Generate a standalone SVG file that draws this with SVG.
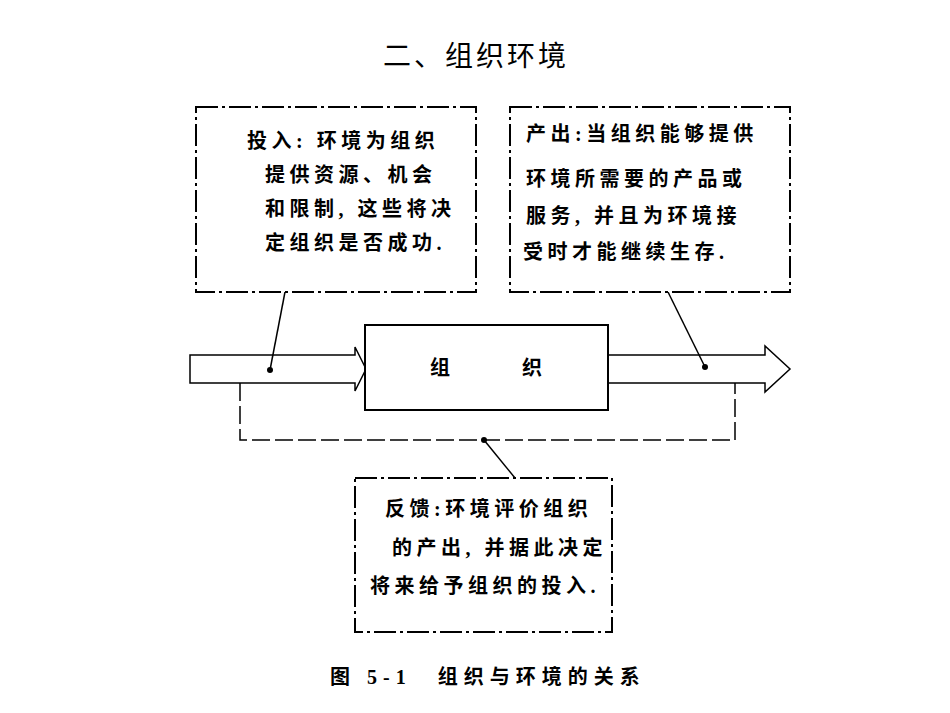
<svg xmlns="http://www.w3.org/2000/svg" width="950" height="713" viewBox="0 0 950 713">
<style>
text{font-family:"Liberation Serif","Noto Sans CJK SC",serif;fill:#000}
.t{font-size:20px;font-weight:bold;letter-spacing:4.5px}
.box{fill:#fff;stroke:#000;stroke-width:2;stroke-dasharray:22 4 3 4}
.ln{fill:none;stroke:#000;stroke-width:1.5}
</style>
<rect width="950" height="713" fill="#fff"/>
<text x="383" y="66" font-size="28" letter-spacing="3">二、组织环境</text>
<g id="connectors">
<path class="ln" d="M190,355 H355 V347 L366,369 L355,391 V383 H190 Z"/>
<path class="ln" d="M608,355 H765 V346 L790,369 L765,392 V383 H608"/>
<path class="ln" stroke-dasharray="18 5" d="M240,383 V440 H735 V383"/>
<path class="ln" d="M285,292 L270,370"/><circle cx="270" cy="370" r="3"/>
<path class="ln" d="M668,292 L705,367"/><circle cx="705" cy="367" r="3"/>
<path class="ln" d="M484,440 L515,478"/><circle cx="484" cy="440" r="3"/>
</g>
<g id="org"><rect x="365" y="325" width="243" height="85" fill="#fff" stroke="#000" stroke-width="2"/>
<text class="t" x="430" y="375">组</text><text class="t" x="522" y="375">织</text></g>
<g id="input"><rect class="box" x="196" y="107" width="280" height="185"/>
<text class="t" x="247" y="148">投入: 环境为组织</text>
<text class="t" x="265" y="182">提供资源、机会</text>
<text class="t" x="265" y="216">和限制, 这些将决</text>
<text class="t" x="265" y="250">定组织是否成功.</text></g>
<g id="output"><rect class="box" x="510" y="107" width="280" height="185"/>
<text class="t" x="526" y="141">产出:当组织能够提供</text>
<text class="t" x="526" y="186">环境所需要的产品或</text>
<text class="t" x="526" y="223">服务, 并且为环境接</text>
<text class="t" x="523" y="259">受时才能继续生存.</text></g>
<g id="feedback"><rect class="box" x="355" y="478" width="257" height="154"/>
<text class="t" x="385" y="516">反馈:环境评价组织</text>
<text class="t" x="392" y="555">的产出, 并据此决定</text>
<text class="t" x="370" y="593">将来给予组织的投入.</text></g>
<text x="330" y="684" font-size="20" font-weight="bold" letter-spacing="6">图 5-1　组织与环境的关系</text>
</svg>
